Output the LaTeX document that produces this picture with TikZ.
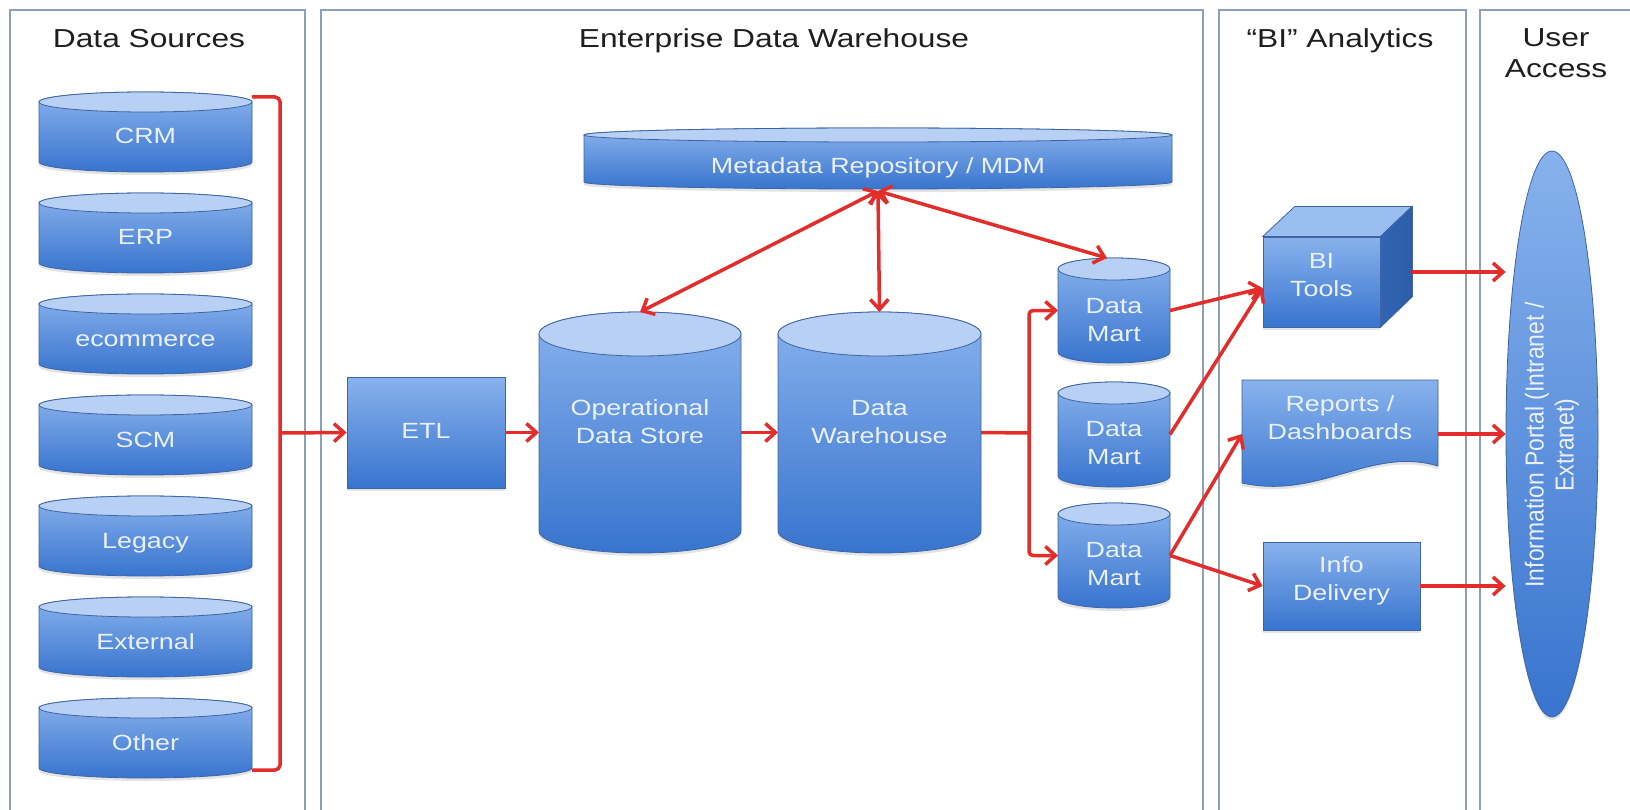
\documentclass[tikz,border=0pt]{standalone}
\usepackage{fontspec}
\setmainfont{Liberation Sans}[FakeStretch=1.22]
\newfontfamily\portalfont{Liberation Sans}[FakeStretch=0.88]
\usetikzlibrary{arrows.meta,shadows,shapes.geometric,calc}
\definecolor{panelc}{RGB}{140,160,190}
\definecolor{redc}{RGB}{226,45,42}
\definecolor{blueT}{RGB}{136,178,237}
\definecolor{blueB}{RGB}{56,116,206}
\definecolor{capc}{RGB}{184,208,243}
\definecolor{edgec}{RGB}{62,100,165}
\definecolor{sidec}{RGB}{50,100,180}
\definecolor{txtc}{RGB}{234,241,252}
\definecolor{titlec}{RGB}{30,30,30}
\tikzset{
  panel/.style={draw=panelc, line width=1.8pt},
  ttl/.style={font=\fontsize{26}{31}\selectfont, text=titlec, inner sep=0pt},
  ttlone/.style={ttl, text height=19pt, text depth=0pt},
  bodyshade/.style={top color=blueT, bottom color=blueB, draw=edgec, line width=0.8pt},
  capfill/.style={fill=capc, draw=edgec, line width=0.8pt},
  lbl/.style={font=\fontsize{22}{28}\selectfont, text=txtc, align=center, inner sep=0pt},
  lblone/.style={font=\fontsize{22}{28}\selectfont, text=txtc, inner sep=0pt, text height=16pt, text depth=0pt},
  shadowed/.style={drop shadow={shadow xshift=0pt, shadow yshift=-3pt, opacity=0.22}},
  ghost/.style={inner sep=0pt, outer sep=0pt},
  flow/.style={draw=redc, line width=3.5pt, -{Straight Barb[length=10pt,width=18pt]}},
  flowtwo/.style={draw=redc, line width=3.5pt, {Straight Barb[length=10pt,width=18pt]}-{Straight Barb[length=10pt,width=18pt]}},
  redline/.style={draw=redc, line width=3.5pt},
}
% #1 name, #2 cx, #3 top y, #4 width, #5 height, #6 ry, #7 text y, #8 text, #9 text style
\newcommand\dbcyl[9]{%
  \path[bodyshade, shadowed] ({#2-#4/2},{#3-#6}) -- ({#2-#4/2},{#3-#5+#6})
     arc[start angle=180,end angle=360,x radius={#4/2},y radius=#6]
     -- ({#2+#4/2},{#3-#6})
     arc[start angle=0,end angle=180,x radius={#4/2},y radius=#6] -- cycle;
  \path[capfill] (#2,{#3-#6}) ellipse[x radius={#4/2},y radius=#6];
  \node[ghost, minimum width=#4, minimum height=#5] (#1) at (#2,{#3-#5/2}) {};
  \node[#9] (#1-t) at (#2,#7) {#8};
}
\begin{document}
\begin{tikzpicture}[x=1pt,y=1pt]
\useasboundingbox (0,0) rectangle (1630,-810);
\fill[white] (0,0) rectangle (1630,-810);

% panels
\draw[panel] (10,-10) rectangle (305,-830);
\draw[panel] (321,-10) rectangle (1203,-830);
\draw[panel] (1219,-10) rectangle (1466,-830);
\draw[panel] (1480,-10) rectangle (1660,-830);

% titles
\node[ttlone] (t1) at (149,-38) {Data Sources};
\node[ttlone] (t2) at (774,-38) {Enterprise Data Warehouse};
\node[ttlone] (t3) at (1340,-38) {“BI” Analytics};
\node[ttl, align=center] (t4) at (1556,-53) {User\\Access};

% data sources
\dbcyl{crm}{145.5}{-92}{213}{80}{10}{-136}{CRM}{lblone}
\dbcyl{erp}{145.5}{-193}{213}{80}{10}{-237}{ERP}{lblone}
\dbcyl{ecom}{145.5}{-294}{213}{80}{10}{-338}{ecommerce}{lblone}
\dbcyl{scm}{145.5}{-395}{213}{80}{10}{-439}{SCM}{lblone}
\dbcyl{legacy}{145.5}{-496}{213}{80}{10}{-540}{Legacy}{lblone}
\dbcyl{external}{145.5}{-597}{213}{80}{10}{-641}{External}{lblone}
\dbcyl{other}{145.5}{-698}{213}{80}{10}{-742}{Other}{lblone}

% enterprise data warehouse
\dbcyl{meta}{878}{-128}{588}{61}{7}{-166}{Metadata Repository / MDM}{lblone}
\node[bodyshade, shadowed, minimum width=158, minimum height=111, inner sep=0pt] (etl) at (426,-432.5) {};
\node[lblone] (etl-t) at (426,-430) {ETL};
\dbcyl{ods}{640}{-312}{202}{241}{22}{-422}{Operational\\Data Store}{lbl}
\dbcyl{dw}{879.5}{-312}{203}{241}{22}{-422}{Data\\Warehouse}{lbl}
\dbcyl{dmone}{1114}{-258}{112}{105}{11}{-320}{Data\\Mart}{lbl}
\dbcyl{dmtwo}{1114}{-382}{112}{105}{11}{-443}{Data\\Mart}{lbl}
\dbcyl{dmthree}{1114}{-503}{112}{105}{11}{-564}{Data\\Mart}{lbl}

% BI analytics
\node[bodyshade, shadowed, minimum width=117, minimum height=90, inner sep=0pt] (bi) at (1321.5,-282) {};
\path[fill=blueT!85!white, draw=edgec, line width=0.8pt] (bi.north west) -- ++(32,30) -- ++(117,0) -- (bi.north east) -- cycle;
\path[left color=sidec, right color=blueB!80!black, draw=edgec, line width=0.8pt] (bi.north east) -- ++(32,30) -- ++(0,-90) -- (bi.south east) -- cycle;
\node[lbl] (bi-t) at (1321.5,-275) {BI\\Tools};

\node[ghost, minimum width=196, minimum height=108] (rep) at (1340,-434) {};
\path[bodyshade, shadowed] (rep.north west) -- (rep.north east) -- (1438,-466)
   .. controls (1370,-446) and (1320,-500) .. (1242,-483) -- cycle;
\node[lbl] (rep-t) at (1340,-418) {Reports /\\Dashboards};

\node[bodyshade, shadowed, minimum width=157, minimum height=88, inner sep=0pt] (info) at (1341.5,-586) {};
\node[lbl] (info-t) at (1341.5,-581) {Info\\Delivery};

% user access
\node[ellipse, bodyshade, shadowed, minimum width=92, minimum height=566, inner sep=0pt] (portal) at (1552,-434) {};
\node[rotate=90, font=\portalfont\fontsize{26}{30}\selectfont, text=txtc, align=center, inner sep=0pt] (portal-t) at (1552,-445) {Information Portal (Intranet /\\Extranet)};

% connectors: sources to ETL
\coordinate (brk) at (280,-433);
\draw[redline, rounded corners=5pt] ([yshift=35]crm.east) -| (brk) |- ([yshift=-32]other.east);
\draw[flow] (brk) -- (etl.west);
\draw[flow] (etl.east) -- (ods.west);
\draw[flow] (ods.east) -- (dw.west);

% DW to data marts
\coordinate (fork) at (1029,-433);
\draw[redline] (dw.east) -- (fork);
\draw[flow, rounded corners=4pt] (fork) |- (dmone.west);
\draw[flow, rounded corners=4pt] (fork) |- (dmthree.west);

% metadata links
\coordinate (hub) at (878,-191);
\draw[flowtwo] (hub) -- (ods.north);
\draw[flowtwo] (hub) -- (dw.north);
\draw[flowtwo] (hub) -- ([xshift=-7]dmone.north);

% marts to BI
\draw[flow] (dmone.east) -- ([yshift=-6]bi.west);
\draw[flow] (dmtwo.east) -- ([yshift=-6]bi.west);
\draw[flow] (dmthree.east) -- (rep.west);
\draw[flow] (dmthree.east) -- (info.west);

% BI to portal
\coordinate (bo) at ([shift={(32,10)}]bi.east);
\draw[flow] (bo) -- (bo -| portal.west);
\draw[flow] (rep.east) -- (rep.east -| portal.west);
\draw[flow] (info.east) -- (info.east -| portal.west);
\end{tikzpicture}
\end{document}
